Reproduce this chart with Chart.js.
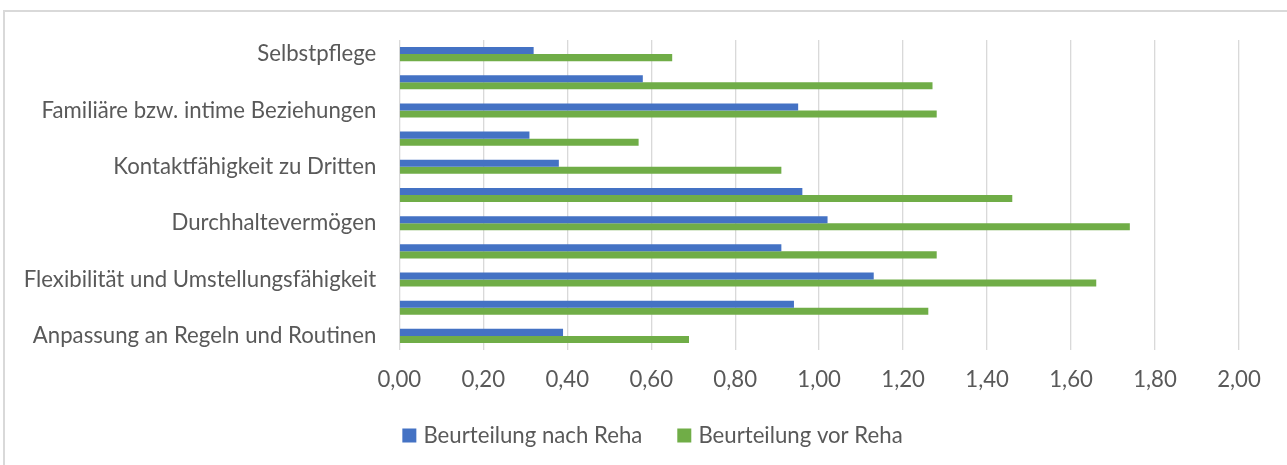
<!DOCTYPE html>
<html>
<head>
<meta charset="utf-8">
<title>Beurteilung vor und nach Reha</title>
<script src="https://cdn.jsdelivr.net/npm/chart.js@4.4.1/dist/chart.umd.min.js"></script>
<style>
  html, body { margin: 0; padding: 0; background: #fff; }
  #wrap { position: relative; width: 1287px; height: 465px; }
</style>
</head>
<body>
<div id="wrap"><canvas id="rehaChart"></canvas></div>
<script>
/*
  Beurteilung nach / vor Reha je Fähigkeitsbereich (horizontale Balken).
  Kategorien von oben nach unten, wie im Original.
*/
const categories = [
  "Selbstpflege",
  "Spontanaktivitäten",
  "Familiäre bzw. intime Beziehungen",
  "Gruppenfähigkeit",
  "Kontaktfähigkeit zu Dritten",
  "Selbstbehauptungsfähigkeit",
  "Durchhaltevermögen",
  "Entscheidungs- und Urteilsfähigkeit",
  "Flexibilität und Umstellungsfähigkeit",
  "Planung und Strukturierung von Aufgaben",
  "Anpassung an Regeln und Routinen",
];
const nachReha = [0.32, 0.58, 0.95, 0.31, 0.38, 0.96, 1.02, 0.91, 1.13, 0.94, 0.39];
const vorReha = [0.65, 1.27, 1.28, 0.57, 0.91, 1.46, 1.74, 1.28, 1.66, 1.26, 0.69];
const seriesNames = ["Beurteilung nach Reha", "Beurteilung vor Reha"];
const xMin = 0;
const xMax = 2;
const xStep = 0.2;

const textColor = "#595959";
const gridColor = "#d9d9d9";
const fontFamily = "Lato, 'Open Sans', sans-serif";
const fontSize = 22.2;

// light grey frame like the Office chart border (top + left visible)
const chartFrame = {
  id: "chartFrame",
  beforeDraw(chart) {
    const { ctx, width, height } = chart;
    ctx.save();
    ctx.fillStyle = "#ffffff";
    ctx.fillRect(0, 0, width, height);
    ctx.strokeStyle = gridColor;
    ctx.lineWidth = 2;
    ctx.beginPath();
    ctx.moveTo(4, height);
    ctx.lineTo(4, 11);
    ctx.lineTo(width, 11);
    ctx.stroke();
    ctx.restore();
  },
};

// legend sits centred under the whole figure, a bit higher than Chart.js puts it
const legendNudge = {
  id: "legendNudge",
  afterLayout(chart) {
    const legend = chart.legend;
    legend.left += 35;
    legend.right += 35;
    legend.top -= 8.5;
    legend.bottom -= 8.5;
  },
};

const formatTick = (value) => Number(value).toFixed(2).replace(".", ",");

new Chart(document.getElementById("rehaChart"), {
  type: "bar",
  data: {
    labels: categories,
    datasets: [
      {
        label: seriesNames[0],
        data: nachReha,
        backgroundColor: "#4472c4",
        categoryPercentage: 0.5,
        barPercentage: 1.0,
      },
      {
        label: seriesNames[1],
        data: vorReha,
        backgroundColor: "#70ad47",
        categoryPercentage: 0.5,
        barPercentage: 1.0,
      },
    ],
  },
  options: {
    indexAxis: "y",
    responsive: true,
    maintainAspectRatio: false,
    animation: false,
    layout: { padding: { top: 40, right: 48, bottom: 0, left: 0 } },
    plugins: {
      tooltip: { enabled: false },
      legend: {
        position: "bottom",
        labels: {
          color: textColor,
          usePointStyle: true,
          pointStyle: "rect",
          boxWidth: 6,
          boxHeight: 14,
          padding: 39,
          font: { family: fontFamily, size: fontSize },
        },
      },
    },
    scales: {
      x: {
        min: xMin,
        max: xMax,
        border: { display: false },
        grid: { color: gridColor, lineWidth: 1.33, drawTicks: false },
        ticks: {
          stepSize: xStep,
          color: textColor,
          padding: 16.5,
          font: { family: fontFamily, size: fontSize },
          callback: formatTick,
        },
        afterFit: (scale) => { scale.height = 43.8; },
      },
      y: {
        border: { display: false },
        grid: { display: false, drawTicks: false },
        ticks: {
          autoSkip: false,
          color: textColor,
          padding: 23,
          font: { family: fontFamily, size: fontSize },
          callback: function (value, index) {
            return index % 2 === 0 ? this.getLabelForValue(value) : "";
          },
        },
        afterFit: (scale) => { scale.width = 399.3; },
      },
    },
  },
  plugins: [chartFrame, legendNudge],
});
</script>
</body>
</html>
